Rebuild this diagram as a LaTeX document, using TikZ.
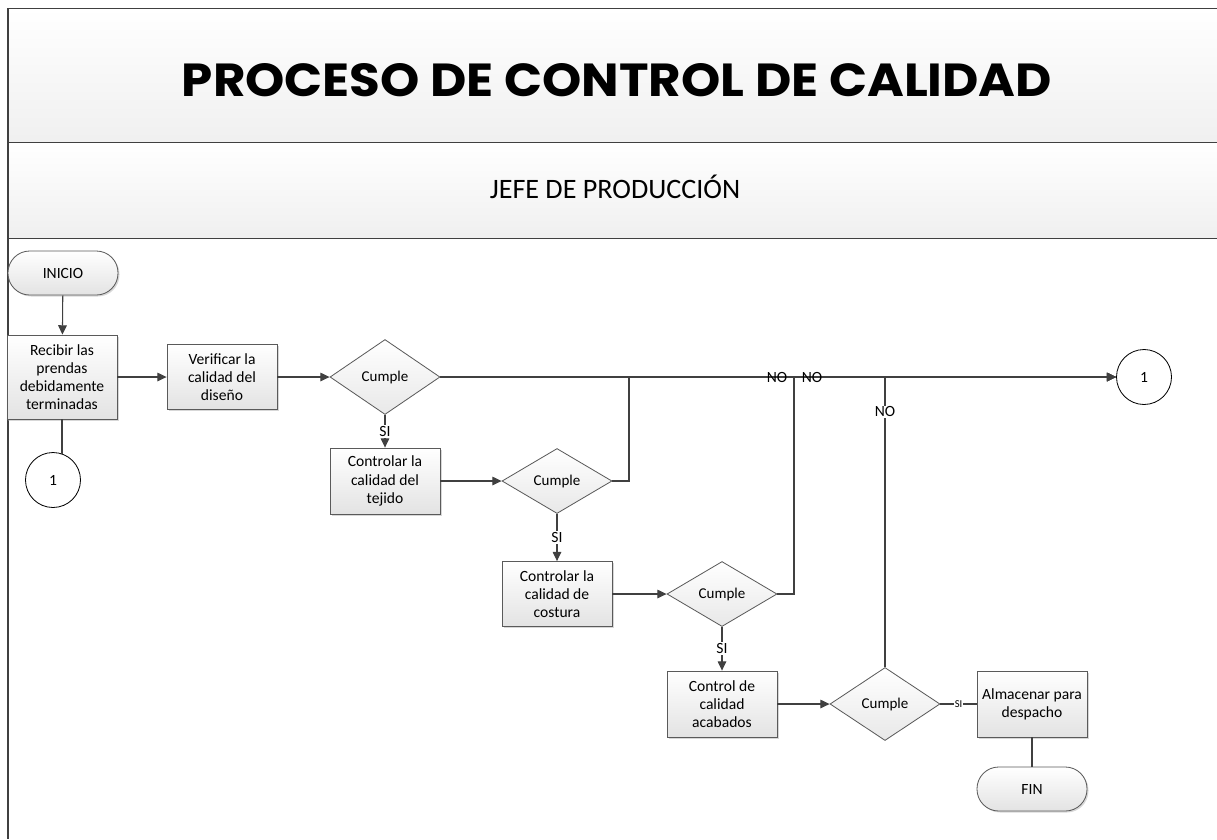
\documentclass[tikz,border=0pt]{standalone}
\usepackage{graphicx}
\usepackage{fontspec}
\setmainfont{Carlito}
\newfontfamily\titlefont{Poppins}
\usetikzlibrary{shapes.geometric,arrows.meta,shadows}

\definecolor{linegray}{HTML}{404040}
\definecolor{boxgray}{HTML}{5A5A5A}

\tikzset{
  bodyfont/.style={font=\fontsize{13.3}{15.5}\selectfont},
  frameline/.style={draw=linegray, line width=0.8pt},
  flowline/.style={draw=linegray, line width=0.9pt},
  flowarrow/.style={flowline, -{Triangle[length=2.8mm,width=2.6mm]}},
  softshadow/.style={drop shadow={shadow xshift=0.45mm, shadow yshift=-0.45mm, fill=gray!70, opacity=0.45}},
  procbox/.style={rectangle, draw=boxgray, line width=0.7pt, top color=white, bottom color=gray!22,
    softshadow, minimum width=33mm, minimum height=19.8mm, inner sep=0.8mm, align=center, bodyfont},
  decision/.style={diamond, draw=boxgray, line width=0.7pt, top color=white, bottom color=gray!18,
    shape aspect=1.6, minimum width=33mm, minimum height=19.5mm, inner sep=0pt,
    font=\fontsize{12.8}{15}\selectfont},
  terminal/.style={rectangle, rounded corners=6.5mm, draw=boxgray, line width=0.7pt, top color=white,
    bottom color=gray!22, softshadow, minimum width=33mm, minimum height=13.2mm, bodyfont},
  pageconn/.style={circle, draw=black, line width=0.7pt, fill=white, minimum size=16.5mm, inner sep=0pt, bodyfont},
  flowlabel/.style={fill=white, inner sep=1pt, bodyfont},
  strucklabel/.style={inner sep=0pt, bodyfont},
  smalllabel/.style={fill=white, inner sep=1pt, font=\fontsize{9}{10}\selectfont}
}

\begin{document}
\begin{tikzpicture}[x=0.3mm, y=-0.3mm]
  \useasboundingbox (0,0) rectangle (1217,839);
  % draw header bands
  \shade[top color=white, bottom color=gray!12] (8,8) rectangle (1217,142);
  \shade[top color=white, bottom color=gray!12] (8,142) rectangle (1217,238);
  \draw[frameline] (1217,8) -- (8,8);
  \draw[frameline] (8,142) -- (1217,142);
  \draw[frameline] (8,238) -- (1217,238);
  \draw[frameline, line width=1.4pt] (8,8) -- (8,839);
  \node (title_main) at (617,80) {\resizebox{261mm}{9.9mm}{\titlefont\bfseries PROCESO DE CONTROL DE CALIDAD}};
  \node[anchor=base, font=\fontsize{24}{28}\selectfont] (lane_jefe) at (615,198) {JEFE DE PRODUCCIÓN};

  % draw process steps
  \node[terminal] (term_inicio) at (63,273) {INICIO};
  \node[procbox, minimum height=25.2mm] (box_recibir) at (62,377) {Recibir las\\prendas\\debidamente\\terminadas};
  \node[procbox, minimum height=19.5mm] (box_diseno) at (222,377) {Verificar la\\calidad del\\diseño};
  \node[decision, minimum height=22.5mm] (dec_diseno) at (385,377) {Cumple};
  \node[procbox] (box_tejido) at (385,481) {Controlar la\\calidad del\\tejido};
  \node[decision] (dec_tejido) at (557,481) {Cumple};
  \node[procbox, minimum height=19.5mm] (box_costura) at (557,594) {Controlar la\\calidad de\\costura};
  \node[decision] (dec_costura) at (722,594) {Cumple};
  \node[procbox] (box_acabados) at (722,704) {Control de\\calidad\\acabados};
  \node[decision, minimum height=21.9mm] (dec_acabados) at (885,704) {Cumple};
  \node[procbox] (box_almacenar) at (1032,704) {Almacenar para\\despacho};
  \node[terminal] (term_fin) at (1032,789) {FIN};
  \node[pageconn] (conn_left) at (53,480) {1};
  \node[pageconn] (conn_right) at (1144,377) {1};

  % junctions on the return line
  \coordinate (join_tejido) at (629,377);
  \coordinate (join_costura) at (794,377);
  \coordinate (join_acabados) at (885,377);

  % draw main flow
  \draw[flowarrow] (term_inicio) -- (box_recibir);
  \draw[flowline] (box_recibir.south) -- (box_recibir.south |- conn_left.70);
  \draw[flowarrow] (box_recibir) -- (box_diseno);
  \draw[flowarrow] (box_diseno) -- (dec_diseno);
  \draw[flowarrow] (dec_diseno.south) -- node[flowlabel] {SI} (box_tejido.north);
  \draw[flowarrow] (box_tejido) -- (dec_tejido);
  \draw[flowarrow] (dec_tejido.south) -- node[flowlabel] {SI} (box_costura.north);
  \draw[flowarrow] (box_costura) -- (dec_costura);
  \draw[flowarrow] (dec_costura.south) -- node[flowlabel] {SI} (box_acabados.north);
  \draw[flowarrow] (box_acabados) -- (dec_acabados);
  \draw[flowline] (dec_acabados.east) -- node[smalllabel] {SI} (box_almacenar.west);
  \draw[flowline] (box_almacenar) -- (term_fin);

  % draw NO branches back to the connector
  \draw[flowarrow] (dec_diseno.east) -- (conn_right.west);
  \draw[flowarrow] (dec_tejido.east) -| (join_tejido) -- node[strucklabel, pos=0.304] {NO} (conn_right.west);
  \draw[flowarrow] (dec_costura.east) -| (join_costura) -- node[strucklabel, pos=0.056] {NO} (conn_right.west);
  \draw[flowarrow] (dec_acabados.north) -- node[flowlabel, pos=0.88] {NO} (join_acabados) -- (conn_right.west);
\end{tikzpicture}
\end{document}
